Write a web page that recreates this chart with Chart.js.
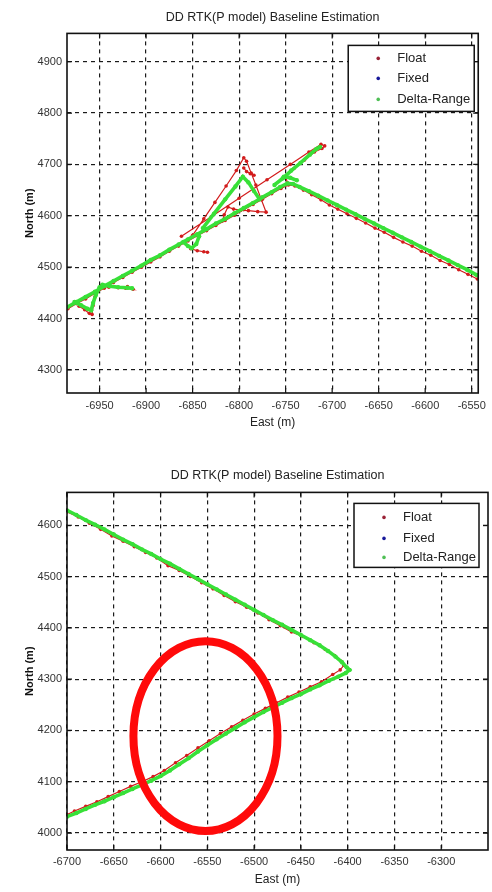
<!DOCTYPE html>
<html>
<head>
<meta charset="utf-8">
<script src="https://cdn.jsdelivr.net/npm/chart.js@4.4.1/dist/chart.umd.min.js"></script>
<style>
  html, body { margin: 0; padding: 0; background: #fff; }
  .plot { position: relative; width: 492px; height: 446px; }
</style>
</head>
<body>
<div class="plot"><canvas id="topChart"></canvas></div>
<div class="plot"><canvas id="bottomChart"></canvas></div>
<script>
const FONT = "'Liberation Sans', Arial, sans-serif";
const TITLE = "DD RTK(P model) Baseline Estimation";
const seriesLabels = ["Float", "Fixed", "Delta-Range"];

// axis extents + tick values
const eastRangeTop = [-6985, -6543];
const northRangeTop = [4255, 4955];
const eastTicksTop = [-6950, -6900, -6850, -6800, -6750, -6700, -6650, -6600, -6550];
const northTicksTop = [4300, 4400, 4500, 4600, 4700, 4800, 4900];

const eastRangeBottom = [-6700, -6250];
const northRangeBottom = [3967, 4664];
const eastTicksBottom = [-6700, -6650, -6600, -6550, -6500, -6450, -6400, -6350, -6300];
const northTicksBottom = [4000, 4100, 4200, 4300, 4400, 4500, 4600];

// top plot: [east, north], null north = pen up
const floatTop = [
  [-6984, 4419], [-6975, 4429], [-6965, 4438], [-6955, 4449], [-6945, 4459], [-6935, 4470], [-6925, 4480],
  [-6915, 4490], [-6905, 4500], [-6895, 4510], [-6885, 4520], [-6875, 4531], [-6865, 4541], [-6855, 4551],
  [-6845, 4561], [-6835, 4571], [-6825, 4581], [-6815, 4591], [-6805, 4601], [-6795, 4612], [-6785, 4622],
  [-6775, 4632], [-6765, 4643], [-6755, 4653], [-6747, 4660],
  [-6740, 4658], [-6731, 4650], [-6722, 4641], [-6712, 4631], [-6703, 4621], [-6694, 4613], [-6684, 4604],
  [-6674, 4595], [-6664, 4586], [-6654, 4576], [-6644, 4568], [-6634, 4558], [-6624, 4549], [-6614, 4541],
  [-6604, 4531], [-6594, 4523], [-6584, 4513], [-6574, 4505], [-6564, 4495], [-6554, 4486], [-6544, 4477], [-6538, 4472],
  [-6538, null],
  [-6972, 4424], [-6966, 4417], [-6961, 4410], [-6958, 4408], [-6957, 4425], [-6955, 4442], [-6952, 4454],
  [-6952, null],
  [-6948, 4464], [-6940, 4461], [-6930, 4460], [-6922, 4459], [-6914, 4457], [-6920, 4462],
  [-6920, null],
  [-6858, 4546], [-6852, 4536], [-6845, 4532], [-6838, 4530], [-6834, 4529],
  [-6834, null],
  [-6850, 4562], [-6838, 4594], [-6826, 4626], [-6814, 4658], [-6803, 4688], [-6795, 4713], [-6792, 4706],
  [-6787, 4683], [-6782, 4660], [-6776, 4631], [-6771, 4607], [-6780, 4608], [-6790, 4610], [-6798, 4611],
  [-6806, 4613], [-6812, 4617], [-6816, 4602], [-6818, 4590],
  [-6818, null],
  [-6795, 4693], [-6792, 4686], [-6788, 4682], [-6784, 4679],
  [-6784, null],
  [-6862, 4560], [-6830, 4598], [-6800, 4634], [-6770, 4670], [-6745, 4700], [-6725, 4724], [-6712, 4739],
  [-6708, 4736], [-6711, 4731], [-6719, 4724], [-6730, 4708], [-6741, 4692], [-6750, 4676], [-6748, 4664],
];
const fixedTop = [];
const deltaTop = [
  [-6985, 4422], [-6975, 4432], [-6965, 4442], [-6955, 4452], [-6945, 4463], [-6935, 4473], [-6925, 4483],
  [-6915, 4493], [-6905, 4503], [-6895, 4514], [-6885, 4523], [-6875, 4534], [-6865, 4544], [-6855, 4554],
  [-6845, 4564], [-6835, 4574], [-6825, 4585], [-6815, 4594], [-6805, 4605], [-6795, 4615], [-6785, 4625],
  [-6775, 4636], [-6765, 4646], [-6756, 4656], [-6748, 4663],
  [-6742, 4662], [-6735, 4656], [-6725, 4648], [-6715, 4639], [-6705, 4630], [-6695, 4621], [-6685, 4612],
  [-6675, 4603], [-6665, 4594], [-6655, 4585], [-6645, 4576], [-6635, 4567], [-6625, 4558], [-6615, 4549],
  [-6605, 4540], [-6595, 4531], [-6585, 4522], [-6575, 4513], [-6565, 4504], [-6555, 4495], [-6545, 4485], [-6538, 4478],
  [-6538, null],
  [-6977, 4432], [-6970, 4426], [-6963, 4419], [-6959, 4416], [-6957, 4430], [-6954, 4446], [-6950, 4461],
  [-6950, null],
  [-6947, 4466], [-6939, 4463], [-6930, 4461], [-6920, 4460], [-6915, 4459],
  [-6915, null],
  [-6860, 4549], [-6855, 4541], [-6851, 4537], [-6846, 4545], [-6843, 4560],
  [-6843, null],
  [-6762, 4660], [-6753, 4673], [-6744, 4688], [-6734, 4703], [-6724, 4719], [-6717, 4730], [-6713, 4734],
  [-6713, null],
  [-6839, 4576], [-6827, 4604], [-6815, 4632], [-6804, 4657], [-6796, 4676], [-6790, 4665], [-6784, 4648], [-6778, 4632],
  [-6778, null],
  [-6752, 4676], [-6745, 4674], [-6738, 4669],
];

// bottom plot
const floatBottom = [
  [-6700, 4626], [-6688, 4616], [-6676, 4604], [-6664, 4592], [-6652, 4579], [-6640, 4569], [-6628, 4558],
  [-6616, 4547], [-6604, 4536], [-6592, 4521], [-6580, 4512], [-6568, 4500], [-6556, 4488], [-6544, 4476],
  [-6532, 4463], [-6520, 4451], [-6508, 4440], [-6496, 4429], [-6484, 4416], [-6472, 4404], [-6460, 4392],
  [-6448, 4383], [-6436, 4371], [-6424, 4358], [-6414, 4346], [-6407, 4335], [-6404, 4327],
  [-6408, 4318], [-6416, 4309], [-6428, 4295], [-6440, 4285], [-6452, 4275], [-6464, 4265], [-6476, 4254],
  [-6488, 4243], [-6500, 4232], [-6512, 4220], [-6524, 4207], [-6536, 4194], [-6548, 4180], [-6560, 4166],
  [-6572, 4151], [-6584, 4137], [-6596, 4122], [-6608, 4110], [-6620, 4100], [-6632, 4091], [-6644, 4081],
  [-6656, 4071], [-6668, 4061], [-6680, 4052], [-6692, 4043], [-6700, 4036],
];
const fixedBottom = [];
const deltaBottom = [
  [-6700, 4629], [-6690, 4620], [-6680, 4610], [-6670, 4601], [-6660, 4592], [-6650, 4582], [-6640, 4572],
  [-6630, 4563], [-6620, 4553], [-6610, 4544], [-6600, 4534], [-6590, 4525], [-6580, 4515], [-6570, 4505],
  [-6560, 4495], [-6550, 4485], [-6540, 4475], [-6530, 4465], [-6520, 4455], [-6510, 4445], [-6500, 4435],
  [-6490, 4425], [-6480, 4415], [-6470, 4406], [-6460, 4396], [-6450, 4386], [-6440, 4376], [-6430, 4366],
  [-6421, 4355], [-6413, 4344], [-6406, 4333], [-6401, 4323], [-6398, 4318],
  [-6402, 4312], [-6410, 4305], [-6420, 4297], [-6430, 4288], [-6440, 4280], [-6450, 4271], [-6460, 4263],
  [-6470, 4254], [-6480, 4245], [-6490, 4236], [-6500, 4226], [-6510, 4216], [-6520, 4205], [-6530, 4194],
  [-6540, 4183], [-6550, 4171], [-6560, 4159], [-6570, 4146], [-6580, 4134], [-6590, 4122], [-6600, 4111],
  [-6610, 4102], [-6620, 4094], [-6630, 4086], [-6640, 4078], [-6650, 4070], [-6660, 4062], [-6670, 4055],
  [-6680, 4047], [-6690, 4039], [-6700, 4032],
];

// red ring drawn over the bottom plot (data units)
const ringBottom = { east: -6552, north: 4189, rEast: 77, rNorth: 185 };

const frame = {
  id: "frame",
  afterDatasetsDraw(chart, args, opts) {
    const { ctx, chartArea: a, scales } = chart;
    ctx.save();
    if (opts.ring) {
      const r = opts.ring;
      const cx = scales.x.getPixelForValue(r.east);
      const cy = scales.y.getPixelForValue(r.north);
      const rx = Math.abs(scales.x.getPixelForValue(r.east + r.rEast) - cx);
      const ry = Math.abs(scales.y.getPixelForValue(r.north + r.rNorth) - cy);
      ctx.strokeStyle = "#ff0a0a";
      ctx.lineWidth = 8;
      ctx.beginPath();
      ctx.ellipse(cx, cy, rx, ry, 0, 0, Math.PI * 2);
      ctx.stroke();
    }
    // matlab style inward ticks + box
    ctx.strokeStyle = "#111";
    ctx.lineWidth = 1.2;
    ctx.beginPath();
    scales.x.ticks.forEach((t) => {
      const px = scales.x.getPixelForValue(t.value);
      ctx.moveTo(px, a.top); ctx.lineTo(px, a.top + 5);
      ctx.moveTo(px, a.bottom); ctx.lineTo(px, a.bottom - 5);
    });
    scales.y.ticks.forEach((t) => {
      const py = scales.y.getPixelForValue(t.value);
      ctx.moveTo(a.left, py); ctx.lineTo(a.left + 5, py);
      ctx.moveTo(a.right, py); ctx.lineTo(a.right - 5, py);
    });
    ctx.stroke();
    ctx.lineWidth = 1.6;
    ctx.strokeRect(a.left, a.top, a.right - a.left, a.bottom - a.top);

    // legend box
    const b = opts.legend;
    const left = a.right - b.right - b.width;
    const top = a.top + b.top;
    ctx.fillStyle = "#fff";
    ctx.fillRect(left, top, b.width, b.height);
    ctx.lineWidth = 1.5;
    ctx.strokeRect(left, top, b.width, b.height);
    ctx.font = `13px ${FONT}`;
    ctx.textBaseline = "middle";
    chart.data.datasets.forEach((ds, i) => {
      const y = top + b.rows[i];
      ctx.fillStyle = ds.legendColor;
      ctx.beginPath();
      ctx.arc(left + 30, y, 1.8, 0, Math.PI * 2);
      ctx.fill();
      ctx.fillStyle = "#222";
      ctx.fillText(ds.label, left + 49, y);
    });
    ctx.restore();
  },
};

function makeChart(id, c) {
  const tickFont = { family: FONT, size: 11 };
  const lineSet = (label, data, color, legendColor, width, radius, order) => ({
    label, data, order, legendColor,
    borderColor: color, backgroundColor: color,
    borderWidth: width, pointRadius: radius, pointBorderWidth: 0,
    showLine: true, spanGaps: false, clip: 0,
  });
  return new Chart(document.getElementById(id), {
    type: "scatter",
    data: {
      datasets: [
        lineSet(seriesLabels[0], c.float, "#d21c1c", "#9a2236", 1.2, 1.8, 2),
        lineSet(seriesLabels[1], c.fixed, "#17189a", "#17189a", 1.2, 1.7, 1),
        lineSet(seriesLabels[2], c.delta, "#38e038", "#4fbf55", 3.6, 2.2, 0),
      ],
    },
    options: {
      responsive: true,
      maintainAspectRatio: false,
      animation: false,
      layout: { padding: { left: 0, right: c.padRight, top: 0, bottom: 0 } },
      plugins: {
        legend: { display: false },
        tooltip: { enabled: false },
        title: {
          display: true, text: TITLE, color: "#222", fullSize: false,
          font: { family: FONT, size: 12.5, weight: "normal" },
          padding: c.titlePad,
        },
        frame: { ring: c.ring, legend: c.legend },
      },
      scales: {
        x: {
          type: "linear", min: c.xRange[0], max: c.xRange[1],
          afterBuildTicks: (s) => { s.ticks = c.xTicks.map((v) => ({ value: v })); },
          afterFit: (s) => { s.height = c.xAxisH; },
          ticks: { font: tickFont, color: "#333", padding: c.xTickPad, maxRotation: 0, callback: (v) => String(v) },
          grid: { color: "#1a1a1a", lineWidth: 1.2, drawTicks: false },
          border: { display: false, dash: [4, 4] },
          title: { display: true, text: "East (m)", color: "#222", font: { family: FONT, size: 12 }, padding: { top: 0, bottom: c.xTitlePad } },
        },
        y: {
          type: "linear", min: c.yRange[0], max: c.yRange[1],
          afterBuildTicks: (s) => { s.ticks = c.yTicks.map((v) => ({ value: v })); },
          afterFit: (s) => { s.width = 67; },
          ticks: { font: tickFont, color: "#333", padding: 5, callback: (v) => String(v) },
          grid: { color: "#1a1a1a", lineWidth: 1.2, drawTicks: false },
          border: { display: false, dash: [4, 4] },
          title: { display: true, text: "North (m)", color: "#111", font: { family: FONT, size: 11, weight: "bold" }, padding: { top: 23, bottom: 0 } },
        },
      },
    },
    plugins: [frame],
  });
}

makeChart("topChart", {
  float: floatTop, fixed: fixedTop, delta: deltaTop,
  xRange: eastRangeTop, yRange: northRangeTop, xTicks: eastTicksTop, yTicks: northTicksTop,
  padRight: 9, titlePad: { top: 10, bottom: 8.4 }, xAxisH: 53, xTickPad: 6, xTitlePad: 16,
  legend: { right: 4, top: 12, width: 126, height: 66, rows: [13, 33, 54] },
  ring: null,
});

makeChart("bottomChart", {
  float: floatBottom, fixed: fixedBottom, delta: deltaBottom,
  xRange: eastRangeBottom, yRange: northRangeBottom, xTicks: eastTicksBottom, yTicks: northTicksBottom,
  padRight: 4, titlePad: { top: 22, bottom: 9.4 }, xAxisH: 42, xTickPad: 5, xTitlePad: 5,
  legend: { right: 9, top: 11, width: 125, height: 64, rows: [14, 35, 54] },
  ring: ringBottom,
});
</script>
</body>
</html>
